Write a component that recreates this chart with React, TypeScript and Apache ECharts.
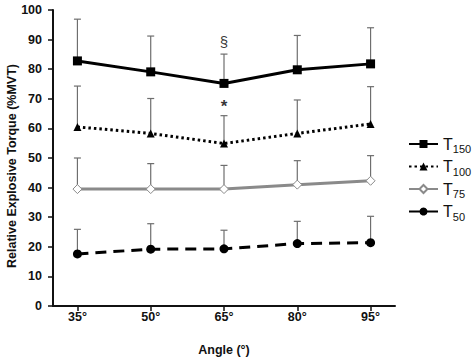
import React, { useEffect, useRef } from "react";
import * as echarts from "echarts";

const angles = [35, 50, 65, 80, 95];
const seriesNames = ["T150", "T100", "T75", "T50"];
const t150 = [82.8, 79.1, 75.2, 79.8, 81.8];
const t150Upper = [96.9, 91.2, 85.1, 91.4, 94.0];
const t100 = [60.5, 58.3, 54.9, 58.3, 61.5];
const t100Upper = [74.3, 70.1, 64.3, 69.6, 74.1];
const t75 = [39.5, 39.5, 39.5, 41.0, 42.3];
const t75Upper = [50.0, 48.1, 47.5, 49.1, 50.8];
const t50 = [17.6, 19.2, 19.3, 21.1, 21.4];
const t50Upper = [25.9, 27.8, 25.6, 28.6, 30.3];
const yTicks = [0, 10, 20, 30, 40, 50, 60, 70, 80, 90, 100];
const annotations = [
  { angle: 65, value: 89.3, text: "§" },
  { angle: 65, value: 67.3, text: "*" },
];

const FONT = "Liberation Sans, Arial, sans-serif";

export default function App() {
  const ref = useRef<HTMLDivElement>(null);
  useEffect(() => {
    if (!ref.current) return;
    const chart = echarts.init(ref.current, undefined, { renderer: "svg" });
    const errData: number[][] = [];
    [
      [t150, t150Upper],
      [t100, t100Upper],
      [t75, t75Upper],
      [t50, t50Upper],
    ].forEach(([m, u]) => {
      angles.forEach((a, i) => errData.push([a, m[i], u[i]]));
    });
    const toPts = (arr: number[]) => angles.map((a, i) => [a, arr[i]]);
    chart.setOption({
      animation: false,
      textStyle: { fontFamily: FONT },
      grid: { left: 53, right: 79, top: 10, bottom: 53, containLabel: false },
      xAxis: {
        type: "value",
        min: 30,
        max: 100,
        name: "Angle (°)",
        nameLocation: "middle",
        nameGap: 37,
        nameTextStyle: { fontWeight: "bold", fontSize: 12.5, color: "#111", fontFamily: FONT },
        axisLine: { lineStyle: { color: "#111", width: 2 } },
        axisTick: { show: true, length: 5, customValues: angles, lineStyle: { color: "#111", width: 1.5 } },
        axisLabel: {
          customValues: angles,
          formatter: (v: number) => v + "°",
          fontWeight: "bold",
          fontSize: 12.5,
          color: "#111",
          margin: 4,
          fontFamily: FONT,
        },
        splitLine: { show: false },
      },
      yAxis: {
        type: "value",
        min: 0,
        max: 100,
        interval: 10,
        axisLine: { show: true, lineStyle: { color: "#111", width: 2 } },
        axisTick: { show: true, length: 5, lineStyle: { color: "#111", width: 1.5 } },
        axisLabel: {
          formatter: (v: number) => (yTicks.includes(v) ? String(v) : ""),
          fontWeight: "bold",
          fontSize: 12.5,
          color: "#111",
          margin: 11,
          fontFamily: FONT,
        },
        splitLine: { show: false },
      },
      legend: {
        orient: "vertical",
        left: 403,
        top: 131,
        itemWidth: 29,
        itemHeight: 10,
        itemGap: 4,
        data: seriesNames,
        formatter: (name: string) => `{t|T}{s|${name.slice(1)}}`,
        textStyle: {
          rich: {
            t: { fontSize: 16, color: "#111", fontFamily: FONT },
            s: { fontSize: 11, color: "#111", fontFamily: FONT, padding: [10, 0, 0, 0] },
          },
        },
      },
      graphic: [
        {
          type: "text",
          x: 12,
          y: 166,
          rotation: Math.PI / 2,
          style: {
            text: "Relative Explosive Torque (%MVT)",
            fontWeight: "bold",
            fontSize: 12.5,
            fill: "#111",
            fontFamily: FONT,
            align: "center",
            verticalAlign: "middle",
          },
        },
      ],
      series: [
        {
          type: "custom",
          name: "err",
          z: 1,
          silent: true,
          data: errData,
          renderItem: (params: any, api: any) => {
            const x = api.value(0);
            const p0 = api.coord([x, api.value(1)]);
            const p1 = api.coord([x, api.value(2)]);
            const style = { stroke: "#6e6e6e", lineWidth: 1.2 };
            return {
              type: "group",
              children: [
                { type: "line", shape: { x1: p0[0], y1: p0[1], x2: p1[0], y2: p1[1] }, style },
                { type: "line", shape: { x1: p1[0] - 3.5, y1: p1[1], x2: p1[0] + 3.5, y2: p1[1] }, style },
              ],
            };
          },
        },
        {
          name: "T150",
          type: "line",
          z: 5,
          data: toPts(t150),
          symbol: "rect",
          symbolSize: 9,
          itemStyle: { color: "#000" },
          lineStyle: { color: "#000", width: 3 },
        },
        {
          name: "T100",
          type: "line",
          z: 5,
          data: toPts(t100),
          symbol: "triangle",
          symbolSize: 8,
          itemStyle: { color: "#000" },
          lineStyle: { color: "#000", width: 3, type: [2.5, 3] },
        },
        {
          name: "T75",
          type: "line",
          z: 5,
          data: toPts(t75),
          symbol: "diamond",
          symbolSize: 9,
          itemStyle: { color: "#fff", borderColor: "#8a8a8a", borderWidth: 1 },
          lineStyle: { color: "#8a8a8a", width: 3 },
        },
        {
          name: "T50",
          type: "line",
          z: 5,
          data: toPts(t50),
          symbol: "circle",
          symbolSize: 9,
          itemStyle: { color: "#000" },
          lineStyle: { color: "#000", width: 3, type: [11, 7] },
        },
        {
          name: "notes",
          type: "scatter",
          z: 6,
          symbolSize: 0,
          itemStyle: { color: "#000" },
          data: annotations.map((a) => ({
            value: [a.angle, a.value],
            label: {
              show: true,
              position: "inside",
              formatter: a.text,
              fontSize: a.text === "*" ? 17 : 15,
              fontWeight: a.text === "*" ? "bold" : "normal",
              color: "#000",
              textBorderColor: "transparent",
              textBorderWidth: 0,
              fontFamily: FONT,
            },
          })),
        },
      ],
    });
    return () => chart.dispose();
  }, []);
  return <div ref={ref} style={{ width: 474, height: 361, position: "absolute", left: 0, top: 0, background: "#fff" }} />;
}
